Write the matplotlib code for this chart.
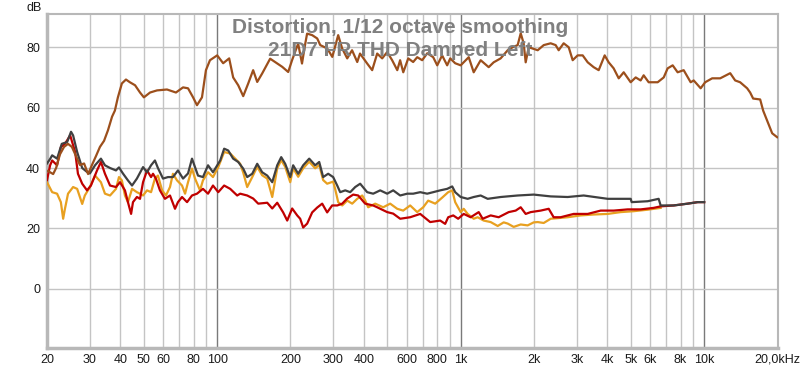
import matplotlib
matplotlib.use("Agg")
import matplotlib.pyplot as plt

plt.rcParams["font.family"] = ["Liberation Sans", "DejaVu Sans"]

# fundamental (brown)
fund_hz = [20.2, 21.2, 21.8, 22.6, 23.5, 24.4, 25.3, 26.3, 27.3, 28.4, 29.5, 30.6, 31.8, 33.0, 34.3,
           35.6, 37.0, 38.0, 39.1, 40.6, 42.2, 43.8, 46.0, 48.2, 50.0, 53.0, 56.6, 62.2, 67.7, 72.4,
           75.9, 79.6, 82.6, 86.6, 89.9, 93.4, 100, 105.8, 112, 116.3, 122, 127.9, 134.1, 140.5, 146,
           153, 165, 173, 185, 195.7, 203, 215, 223, 230, 234, 245.5, 257.5, 265, 283, 297,
           314, 326, 342, 358, 376, 386, 413, 433, 454, 476, 499, 523, 549, 564, 581,
           609, 638, 663, 695, 729, 771, 801, 839, 880, 906, 949, 1000, 1079, 1131, 1208,
           1303, 1366, 1459, 1560, 1635, 1714, 1764, 1814, 1849, 1902, 2072, 2193, 2342, 2455, 2526,
           2648, 2777, 2884, 3023, 3170, 3324, 3516, 3688, 3903, 4053, 4249, 4457, 4672, 4990, 5233,
           5483, 5643, 5916, 6442, 6821, 7079, 7424, 7780, 8238, 8800, 9057, 9674, 10095, 10786, 11636,
           12790, 13403, 14050, 15014, 15446, 15890, 16982, 17470, 18320, 19022, 19945]
fund_db = [39, 38, 40, 44.5, 47, 48, 47, 44, 41, 41.5, 38, 41, 44, 47, 49,
           52.5, 57, 59, 63.4, 68, 69.3, 68.4, 67.4, 65, 63.4, 65, 65.7, 66, 65, 66.7,
           66.4, 63.4, 60.8, 63.4, 72.4, 75.7, 77.3, 74.7, 76.3, 70, 67.4, 63.8, 68, 72.4, 68.5,
           71.3, 76.2, 75.1, 73.5, 71.8, 75.7, 81.2, 74.6, 81.2, 84.5, 84, 82.9, 80.7, 79.6, 76.8,
           84, 79.6, 76.3, 79, 75.1, 77.9, 74.6, 72.4, 77.9, 76.3, 78.4, 75.7, 72.4, 75.7, 71.7,
           76.3, 75.1, 76.7, 75.7, 78, 76.7, 74, 77.3, 74, 76.3, 74.7, 74, 76.7, 71.7, 75.7,
           73.4, 75, 76.3, 79, 80, 80.7, 84.6, 81.3, 75, 80, 79, 80.7, 81.3, 80.7, 79,
           81.3, 80, 75.7, 77.3, 77.3, 75, 73.4, 72.4, 77.3, 75, 73, 69.7, 71.7, 68.4, 70,
           69, 70.7, 68.4, 68.4, 70, 73, 74, 71.7, 72.4, 68.4, 69, 66.4, 68.4, 69.7, 69.7,
           71.4, 69, 68.4, 66.4, 65, 63, 62.7, 59, 54.8, 51.5, 50.2]

# THD (dark gray)
thd_hz = [20, 20.6, 21.0, 22.0, 23.0, 24.2, 25.1, 25.6, 26.6, 27.9, 29.2, 30.0, 31.5, 33.3, 34.6,
          36.3, 38.4, 39.5, 41.0, 43.0, 44.7, 46.8, 49.6, 51.5, 53.5, 55.5, 57.1, 59.9, 62.8, 65.8,
          69.0, 72.4, 75.9, 78.8, 83.4, 87.4, 91.7, 96.1, 102.9, 106.8, 111, 116.3, 122, 127.9, 132.8,
          139.3, 146, 153, 160.5, 168.3, 176.4, 183.2, 190.2, 199.5, 205.1, 215.1, 225.5, 238.7, 252.6,
          262.4, 272.4, 285.6, 299.4, 311.1, 320, 335.6, 351.8, 368.8, 386.6, 413, 437.2, 467, 499,
          528.2, 564.4, 603, 638.3, 682, 728.5, 771, 823.8, 880, 923, 949.3, 1000, 1068, 1131, 1208,
          1291, 1460, 1714, 1995, 2342, 2750, 3200, 4015, 4991, 5038, 5861, 6502, 6626, 7494, 8555,
          9404, 10000]
thd_db = [41.5, 43, 44.2, 43.1, 48, 48.6, 52, 50.8, 45.3, 40, 38.7, 38.2, 40.9, 43.1, 40.9,
          40, 39.2, 40.2, 38.2, 35.9, 34.2, 36.5, 40.3, 38.6, 40.9, 42.5, 40, 36.5, 37, 37,
          39.2, 36.5, 38.2, 43.1, 37.5, 37, 40.9, 38.6, 42.5, 46.4, 45.8, 43.1, 42, 39.8, 37,
          38.1, 41.4, 38.6, 37.5, 35.3, 40.9, 43.6, 41.4, 37, 40.9, 38.1, 40.9, 43.1, 40.9,
          42, 37, 38.1, 37, 34.2, 32, 32.6, 32, 33.7, 34.8, 32, 31.5, 32.6, 31.5,
          32.6, 30.9, 31.5, 31.5, 32, 31.5, 32, 32.6, 33.1, 33.9, 32, 30.4, 29.8, 30.4, 30.9,
          29.8, 30.4, 30.9, 31.2, 30.6, 30.4, 30.9, 29.8, 29.8, 28.7, 29, 29.8, 27.6, 27.6, 28.2,
          28.7, 28.7]

# 2nd harmonic (red)
h2_hz = [20, 20.6, 21.0, 22.0, 22.8, 23.7, 24.9, 26.1, 26.8, 27.9, 29.2, 30.3, 32.1, 33.3, 34.6,
         36.3, 38.4, 39.9, 41.8, 43.0, 44.3, 45.1, 46.8, 48.2, 49.6, 51.5, 53.5, 54.5, 56.0, 58.2,
         61.0, 64.0, 67.1, 69.0, 71.7, 75.2, 78.8, 82.6, 87.4, 91.7, 96.1, 101, 106.8, 113.1, 120.8,
         124.3, 132.8, 140.5, 147.4, 160.5, 168.3, 176.4, 186.6, 193.9, 203.2, 213.1, 219.2, 225.5, 234.2,
         245.5, 257.4, 269.9, 282.9, 296.6, 311.1, 326.2, 342, 361.9, 379.4, 405.4, 437.2, 454, 499,
         528.2, 564.4, 620.3, 682, 749.4, 823.8, 863.6, 888.7, 932, 976.5, 1029, 1099, 1186, 1231,
         1328, 1432, 1575, 1682, 1764, 1849, 1939, 2131, 2299, 2409, 2573, 2911, 3324, 3758, 4250,
         4851, 5486, 6203, 6626, 7494, 8555, 9404, 10000]
h2_db = [36, 40.9, 42.5, 40.9, 46.9, 48, 50.8, 45.3, 38.1, 34.8, 32.6, 34.2, 39.2, 42, 38.1,
         34.2, 33.7, 35.3, 32.6, 28.7, 24.8, 28.7, 30.4, 29.8, 35.3, 39.2, 37, 38.1, 36.5, 32.6,
         29.8, 30.9, 26.5, 28.7, 30.4, 28.7, 30.9, 31.5, 33.1, 31.5, 34.2, 32, 34.2, 33.1, 30.9,
         31.5, 30.9, 29.9, 28.2, 28.5, 26.6, 28.5, 25.3, 22.6, 26.6, 24.3, 23.2, 20.3, 21.6,
         25.3, 26.9, 28.2, 25.3, 27.6, 27.6, 28.2, 29.9, 31.2, 30.9, 28.2, 27.6, 27, 25.4,
         24.9, 23.2, 23.7, 24.8, 22.1, 22.6, 21.5, 23.7, 24.3, 23.2, 24.8, 23.7, 25.4, 23.2,
         24.3, 23.7, 25.4, 25.9, 27, 24.8, 25.4, 25.9, 26.5, 23.7, 23.7, 24.8, 24.8, 25.9, 25.9,
         26.3, 26.3, 26.8, 27.3, 27.6, 28.2, 28.7, 28.7]

# 3rd harmonic (orange)
h3_hz = [20, 21.0, 22.0, 22.8, 23.3, 23.7, 24.4, 25.6, 26.6, 27.9, 28.6, 30.0, 31.5, 33.3, 34.6,
         36.3, 38.4, 39.5, 40.6, 41.8, 43.0, 44.7, 46.8, 48.2, 49.6, 51.5, 53.5, 55.5, 57.1, 59.4,
         61.6, 64.0, 65.8, 68.4, 71.7, 73.8, 75.9, 78.8, 81.1, 85.0, 87.4, 91.7, 96.1, 101, 106.8,
         113.1, 118.6, 124.3, 127.9, 132.8, 139.3, 146, 153, 160.5, 168.3, 176.4, 183.2, 190.2, 199.5,
         205.1, 215.1, 225.5, 238.7, 252.6, 262.4, 272.4, 282.9, 299.4, 305, 314, 326.2, 342, 358.5,
         375.8, 394, 405.4, 417, 445.6, 480.5, 513.4, 548.6, 580.7, 620.3, 662.8, 701.5, 735.4, 786,
         839.5, 888.7, 923, 949.3, 1000, 1029, 1068, 1131, 1174, 1243, 1328, 1419, 1502, 1560, 1651,
         1764, 1884, 1995, 2072, 2193, 2342, 2502, 2750, 3110, 3517, 4015, 4541, 5134, 5861, 6626]
h3_db = [35.3, 32, 31.5, 28.7, 23.2, 26.5, 31.5, 33.7, 33.1, 28.1, 30.9, 33.7, 37.5, 35.3, 31.5,
         30.9, 33.1, 37, 35.9, 30.9, 28.7, 33.1, 32, 31.5, 30.9, 32.6, 32, 36.5, 37.5, 32.6,
         30.9, 33.7, 38.1, 35.9, 34.2, 31.5, 35.3, 39.8, 36.5, 32.6, 35.9, 38.6, 37, 40.3, 45.3,
         44.8, 43.1, 41.4, 38.5, 33.7, 37, 40.4, 37.6, 36.5, 30.4, 39.9, 42.6, 40.4, 35.3,
         39.9, 37.1, 39.9, 42.1, 39.9, 41, 36, 34.8, 35.5, 33.1, 28.7, 27.6, 29.2, 28.2,
         29.8, 30.9, 29.2, 27, 28.2, 27, 28.2, 26.5, 25.9, 27.6, 25.4, 27, 29.2, 28.2,
         30.2, 32, 32.6, 28.7, 25.4, 26.5, 24.8, 23.2, 23.7, 22.6, 22.1, 20.8, 22, 21.6, 20.5,
         21.3, 21, 22, 22.1, 21.8, 23.2, 23.4, 23.7, 24.3, 24.6, 24.8, 25.4, 25.7, 26.2, 26.8]

tick_hz = [20, 30, 40, 50, 60, 80, 100, 200, 300, 400, 600, 800, 1000, 2000, 3000, 4000,
           5000, 6000, 8000, 10000, 20000]
tick_labels = ["20", "30", "40", "50", "60", "80", "100", "200", "300", "400", "600", "800",
               "1k", "2k", "3k", "4k", "5k", "6k", "8k", "10k", "20,0kHz"]
y_ticks = [0, 20, 40, 60, 80]

fig = plt.figure(figsize=(8, 3.69), dpi=100)
ax = fig.add_axes([47 / 800, 21 / 369, 731 / 800, 334 / 369])
ax.set_xscale("log")
ax.set_xlim(20, 20100)
ax.set_ylim(-19.6, 91)

grid_hz = [m * d for d in (10, 100, 1000) for m in range(2, 10)] + [100, 1000, 10000]
for f in grid_hz:
    dark = f in (100, 1000, 10000)
    ax.axvline(f, color="#7a7a7a" if dark else "#c4c4c4", lw=1.0, zorder=1)
for v in y_ticks:
    ax.axhline(v, color="#c4c4c4", lw=1.0, zorder=1)

ax.plot(h3_hz, h3_db, color="#e8a020", lw=1.6, zorder=3)
ax.plot(h2_hz, h2_db, color="#c00000", lw=1.6, zorder=4)
ax.plot(thd_hz, thd_db, color="#404040", lw=1.6, zorder=5)
ax.plot(fund_hz, fund_db, color="#9c4f1c", lw=1.6, zorder=6)

ax.set_xticks(tick_hz)
ax.set_xticklabels(tick_labels)
ax.xaxis.set_minor_locator(matplotlib.ticker.NullLocator())
ax.set_yticks(y_ticks)
ax.tick_params(axis="both", length=0, labelsize=9, colors="#1a1a1a")
ax.tick_params(axis="x", pad=4)
ax.tick_params(axis="y", pad=5)

for side, sp in ax.spines.items():
    sp.set_color("#b8b8b8")
    sp.set_linewidth(2.5 if side in ("left", "bottom") else 1.5)

fig.text(42 / 800, (369 - 11) / 369, "dB", ha="right", va="baseline", fontsize=9, color="#1a1a1a")
fig.text(0.5, (369 - 33) / 369, "Distortion, 1/12 octave smoothing", ha="center", va="baseline",
         fontsize=15, fontweight="bold", color="#808080", zorder=10)
fig.text(0.5, (369 - 56) / 369, "21D7 FR THD Damped Left", ha="center", va="baseline",
         fontsize=15, fontweight="bold", color="#808080", zorder=10)

fig.savefig("out.png", dpi=100)
